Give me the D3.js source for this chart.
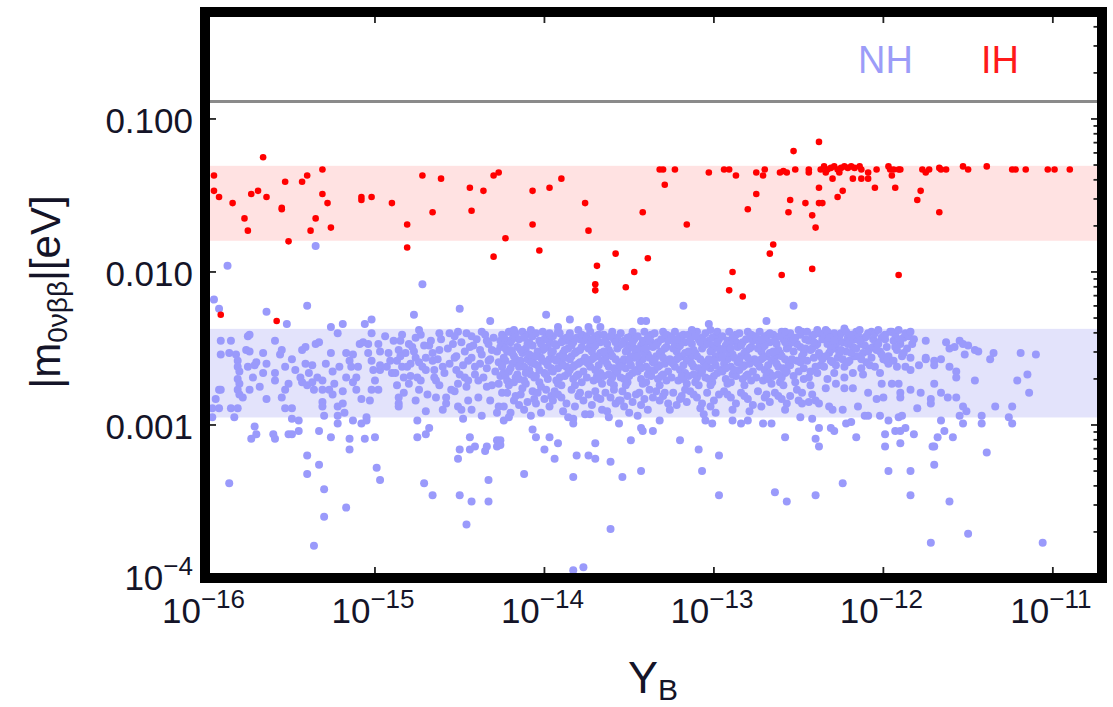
<!DOCTYPE html>
<html><head><meta charset="utf-8">
<script src="https://cdn.jsdelivr.net/npm/d3@7"></script>
<style>
body{margin:0;background:#fff}
svg{display:block}
text{font-family:"Liberation Sans",Arial,Helvetica,sans-serif}
</style>
</head><body>
<svg id="chart" width="1113" height="707"></svg>
<script>
// Axis ranges and reference levels
const xDomain = [1e-16, 1.95e-11];
const yDomain = [1e-4, 0.5];
const xTickExps = [-16, -15, -14, -13, -12, -11];
const yMajorTicks = [0.1, 0.01, 0.001, 0.0001];
const yTickLabels = ["0.100", "0.010", "0.001", "10|−4"];
const ihBand = [0.016, 0.0494];
const nhBand = [0.00112, 0.00425];
const upperBound = 0.13;
const legendLabels = ["NH", "IH"];

// Every entry: [log10 Y_B, log10 |m_0vbb|/eV]
// Inverted hierarchy points
const ihPoints = [
[-15.95,-1.37],[-15.95,-1.47],[-15.92,-1.51],[-15.84,-1.55],[-15.77,-1.65],[-15.75,-1.73],[-15.73,-1.49],[-15.69,-1.47],[-15.66,-1.25],[-15.64,-1.51],
[-15.55,-1.58],[-15.55,-1.59],[-15.53,-1.41],[-15.51,-1.80],[-15.43,-1.41],[-15.40,-1.37],[-15.38,-1.73],[-15.35,-1.65],[-15.31,-1.33],[-15.31,-1.49],
[-15.28,-1.55],[-15.26,-1.71],[-15.08,-1.51],[-15.08,-1.53],[-15.02,-1.51],[-14.90,-1.55],[-14.81,-1.69],[-14.81,-1.84],[-14.72,-1.37],[-14.66,-1.61],
[-14.61,-1.39],[-14.44,-1.45],[-14.43,-1.60],[-14.36,-1.47],[-14.30,-1.37],[-14.27,-1.35],[-14.30,-1.90],[-14.23,-1.78],[-14.07,-1.47],[-14.07,-1.69],
[-14.03,-1.86],[-13.97,-1.45],[-13.90,-1.39],[-13.76,-1.55],[-13.74,-1.73],[-13.69,-1.96],[-13.70,-2.08],[-13.70,-2.12],[-13.58,-1.88],[-13.52,-2.10],
[-13.47,-2.00],[-13.42,-1.61],[-13.39,-1.91],[-15.91,-2.28],[-15.58,-2.32],
[-13.32,-1.33],[-13.30,-1.33],[-13.29,-1.43],[-13.23,-1.33],[-13.16,-1.69],[-13.03,-1.35],[-12.94,-1.33],[-12.91,-1.33],[-12.87,-1.37],[-12.91,-2.12],
[-12.89,-2.00],[-12.83,-2.16],[-12.80,-1.59],[-12.75,-1.35],[-12.75,-1.49],[-12.71,-1.37],[-12.70,-1.33],[-12.67,-1.88],[-12.65,-1.82],[-12.61,-1.35],
[-12.59,-1.34],[-12.57,-1.35],[-12.60,-2.02],[-12.56,-1.61],[-12.55,-1.53],[-12.53,-1.21],[-12.52,-1.33],[-12.46,-1.55],[-12.44,-1.33],[-12.44,-1.35],
[-12.42,-1.63],[-12.42,-1.98],[-12.40,-1.71],[-12.38,-1.15],[-12.38,-1.45],[-12.38,-1.55],[-12.36,-1.55],[-12.37,-1.33],
[-12.35,-1.31],[-12.33,-1.33],[-12.31,-1.32],[-12.29,-1.31],[-12.27,-1.33],[-12.25,-1.32],[-12.23,-1.31],[-12.21,-1.32],[-12.19,-1.31],[-12.17,-1.32],[-12.14,-1.31],
[-12.34,-1.35],[-12.30,-1.39],[-12.27,-1.51],[-12.26,-1.35],[-12.24,-1.47],[-12.18,-1.39],[-12.13,-1.39],[-12.09,-1.39],[-12.13,-1.33],[-12.09,-1.35],
[-12.05,-1.45],[-12.04,-1.33],[-11.97,-1.31],[-11.96,-1.33],[-11.94,-1.33],[-11.91,-1.33],[-11.90,-1.33],[-11.95,-1.37],[-11.93,-1.45],[-11.91,-2.02],
[-11.80,-1.53],[-11.78,-1.47],[-11.77,-1.33],[-11.75,-1.35],[-11.73,-1.33],[-11.67,-1.61],[-11.67,-1.32],[-11.66,-1.33],[-11.63,-1.33],[-11.53,-1.31],
[-11.50,-1.33],[-11.39,-1.31],[-11.24,-1.33],[-11.22,-1.33],[-11.16,-1.33],[-11.03,-1.33],[-10.99,-1.33],[-10.90,-1.33]
];

// Normal hierarchy points, low Y_B side
const nhLeft = [
[-15.91,-2.45],[-15.85,-2.45],[-15.91,-2.54],[-15.86,-2.53],[-15.82,-2.54],[-15.81,-2.58],[-15.81,-2.62],[-15.80,-2.65],[-15.81,-2.70],[-15.80,-2.73],
[-15.81,-2.77],[-15.80,-2.80],[-15.78,-2.82],[-15.91,-2.77],[-15.92,-2.77],[-15.94,-2.83],[-15.96,-2.89],[-15.92,-2.89],[-15.85,-2.89],[-15.81,-2.89],
[-15.83,-2.95],[-15.96,-2.95],[-15.75,-2.42],[-15.74,-2.41],[-15.76,-2.51],[-15.74,-2.52],[-15.75,-2.62],[-15.72,-2.69],[-15.71,-2.61],[-15.68,-2.75],
[-15.74,-2.77],[-15.70,-2.59],[-15.66,-2.53],[-15.64,-2.60],[-15.66,-2.66],[-15.64,-2.83],[-15.59,-2.45],[-15.59,-2.66],[-15.59,-2.71],[-15.55,-2.51],
[-15.56,-2.54],[-15.53,-2.62],[-15.53,-2.77],[-15.55,-2.82],[-15.53,-2.89],[-15.49,-2.89],[-15.49,-2.96],[-15.45,-2.97],[-15.51,-2.73],[-15.49,-2.57],
[-15.47,-2.64],[-15.44,-2.69],[-15.43,-2.51],[-15.41,-2.49],[-15.41,-2.60],[-15.39,-2.66],[-15.43,-2.72],[-15.40,-2.74],[-15.37,-2.72],[-15.36,-2.77],
[-15.35,-2.47],[-15.33,-2.46],[-15.37,-2.61],[-15.34,-2.69],[-15.31,-2.71],[-15.31,-2.77],[-15.31,-2.85],[-15.31,-2.88],[-15.30,-2.94],[-15.29,-2.60],
[-15.26,-2.53],[-15.25,-2.65],[-15.24,-2.73],[-15.27,-2.77],[-15.25,-2.80],[-15.22,-2.88],[-15.22,-2.94],[-15.22,-2.99],[-15.19,-2.86],[-15.19,-2.78],
[-15.18,-2.92],[-15.21,-2.62],[-15.17,-2.53],[-15.15,-2.58],[-15.13,-2.54],[-15.14,-2.62],[-15.17,-2.69],[-15.13,-2.72],[-15.11,-2.69],[-15.10,-2.62],
[-15.09,-2.47],[-15.07,-2.46],[-15.04,-2.47],[-15.02,-2.40],[-15.04,-2.53],[-15.02,-2.58],[-15.01,-2.64],[-15.00,-2.71],[-15.02,-2.77],[-15.03,-2.84],
[-15.05,-2.95],[-15.08,-2.83],[-15.11,-2.77],[-15.13,-2.97],[-15.08,-2.99],[-15.05,-2.97],[-14.98,-2.77],[-14.97,-2.64],[-14.97,-2.52],[-14.97,-2.61],
[-14.98,-2.47],[-14.94,-2.42],[-14.92,-2.53],[-14.93,-2.62],[-14.91,-2.58],[-14.90,-2.66],[-14.87,-2.58],[-14.86,-2.51],[-14.85,-2.45],[-14.84,-2.62],
[-14.83,-2.69],[-14.82,-2.53],[-14.86,-2.82],[-14.86,-2.86],[-14.86,-2.88],[-14.80,-2.73],[-14.79,-2.60],[-14.78,-2.49],[-14.76,-2.56],[-14.75,-2.69],
[-14.74,-2.38],[-14.73,-2.41],[-14.72,-2.62],[-14.74,-2.77],[-14.76,-2.84],[-14.70,-2.56],[-14.68,-2.48],[-14.66,-2.58],[-14.65,-2.64],[-14.64,-2.71],
[-14.62,-2.40],[-14.62,-2.51],[-14.60,-2.62],[-14.64,-2.82],[-14.58,-2.86],[-14.58,-2.82],[-14.56,-2.40],[-14.54,-2.47],[-14.53,-2.56],[-14.52,-2.64],
[-14.51,-2.39],[-14.51,-2.73],[-14.53,-2.78],[-14.51,-2.88],[-14.49,-2.90],[-14.48,-2.96],[-14.45,-2.84],[-14.46,-2.75],[-14.47,-2.69],[-14.45,-2.58],
[-14.44,-2.49],[-14.43,-2.42],[-14.41,-2.62],[-14.39,-2.71],[-14.38,-2.51],[-14.37,-2.39],[-14.34,-2.45],[-14.33,-2.58],[-14.31,-2.51],[-14.34,-2.75],
[-14.32,-2.84],[-14.28,-2.92],[-14.27,-2.73],[-14.25,-2.62],[-14.26,-2.49],[-14.24,-2.42],[-14.25,-2.79],[-14.24,-2.97],[-14.27,-2.88],[-14.60,-2.90],
[-14.70,-2.91],[-14.75,-2.97],[-14.37,-2.94],[-14.43,-2.90],[-14.39,-2.82],
[-14.89,-2.45],[-14.88,-2.66],[-14.87,-2.74],[-14.85,-2.55],[-14.84,-2.41],[-14.83,-2.79],[-14.81,-2.62],[-14.80,-2.47],[-14.79,-2.68],[-14.77,-2.52],
[-14.76,-2.43],[-14.74,-2.59],[-14.73,-2.71],[-14.71,-2.48],[-14.70,-2.64],[-14.69,-2.80],[-14.67,-2.45],[-14.66,-2.53],[-14.65,-2.69],[-14.63,-2.57],
[-14.62,-2.74],[-14.61,-2.44],[-14.59,-2.66],[-14.57,-2.50],[-14.56,-2.60],[-14.55,-2.77],[-14.53,-2.42],[-14.52,-2.55],[-14.50,-2.67],[-14.49,-2.46],
[-14.48,-2.61],[-14.47,-2.52],[-14.46,-2.40],[-14.45,-2.71],[-14.43,-2.56],[-14.42,-2.48],[-14.41,-2.67],[-14.40,-2.44],[-14.38,-2.60],[-14.37,-2.54],
[-14.36,-2.69],[-14.35,-2.41],[-14.34,-2.63],[-14.33,-2.47],[-14.32,-2.57],[-14.31,-2.74],[-14.30,-2.43],[-14.29,-2.65],[-14.28,-2.52],[-14.27,-2.59],
[-14.26,-2.68],[-14.26,-2.45]
];

// Normal hierarchy points, dense middle
const nhCore = [
[-14.25,-2.41],[-14.24,-2.47],[-14.22,-2.52],[-14.21,-2.39],[-14.23,-2.58],[-14.20,-2.63],[-14.19,-2.44],[-14.18,-2.55],[-14.17,-2.69],[-14.22,-2.71],
[-14.24,-2.66],[-14.16,-2.49],[-14.19,-2.60],[-14.21,-2.74],[-14.18,-2.42],[-14.23,-2.50],[-14.17,-2.57],[-14.20,-2.46],[-14.25,-2.61],[-14.16,-2.67],
[-14.22,-2.45],[-14.19,-2.53],[-14.24,-2.56],[-14.18,-2.72],[-14.21,-2.65],[-14.17,-2.40],[-14.23,-2.68],[-14.20,-2.51],[-14.16,-2.59],[-14.24,-2.43],
[-14.22,-2.79],[-14.18,-2.84],[-14.24,-2.88],[-14.20,-2.92],[-14.17,-2.81],[-14.21,-2.95],
[-14.15,-2.44],[-14.13,-2.39],[-14.11,-2.50],[-14.09,-2.46],[-14.07,-2.55],[-14.14,-2.58],[-14.12,-2.62],[-14.10,-2.41],[-14.08,-2.67],[-14.06,-2.60],
[-14.15,-2.70],[-14.13,-2.53],[-14.11,-2.73],[-14.09,-2.64],[-14.07,-2.48],[-14.14,-2.51],[-14.12,-2.43],[-14.10,-2.57],[-14.08,-2.38],[-14.06,-2.69],
[-14.13,-2.76],[-14.11,-2.66],[-14.09,-2.54],[-14.07,-2.42],[-14.15,-2.62],[-14.10,-2.47],[-14.08,-2.59],[-14.12,-2.71],
[-14.14,-2.80],[-14.10,-2.85],[-14.07,-2.78],[-14.12,-2.90],[-14.08,-2.94],[-14.15,-2.87],[-14.06,-2.83],
[-14.05,-2.40],[-14.03,-2.45],[-14.01,-2.51],[-13.99,-2.43],[-13.97,-2.57],[-14.04,-2.61],[-14.02,-2.56],[-14.00,-2.66],[-13.98,-2.49],[-13.96,-2.63],
[-14.05,-2.68],[-14.03,-2.72],[-14.01,-2.39],[-13.99,-2.59],[-13.97,-2.46],[-14.04,-2.52],[-14.02,-2.75],[-14.00,-2.44],[-13.98,-2.70],[-13.96,-2.53],
[-14.03,-2.64],[-14.01,-2.58],[-13.99,-2.67],[-13.97,-2.41],[-14.05,-2.55],[-14.00,-2.50],[-13.98,-2.61],[-14.02,-2.47],
[-14.04,-2.79],[-14.00,-2.83],[-13.97,-2.88],[-14.02,-2.92],[-13.99,-2.77],[-14.05,-2.86],[-13.96,-2.81],
[-13.95,-2.42],[-13.93,-2.48],[-13.91,-2.40],[-13.89,-2.53],[-13.87,-2.45],[-13.94,-2.57],[-13.92,-2.63],[-13.90,-2.59],[-13.88,-2.68],[-13.86,-2.50],
[-13.95,-2.65],[-13.93,-2.71],[-13.91,-2.55],[-13.89,-2.44],[-13.87,-2.62],[-13.94,-2.47],[-13.92,-2.39],[-13.90,-2.74],[-13.88,-2.51],[-13.86,-2.66],
[-13.93,-2.58],[-13.91,-2.69],[-13.89,-2.61],[-13.87,-2.43],[-13.95,-2.52],[-13.90,-2.46],[-13.88,-2.56],[-13.92,-2.73],
[-13.94,-2.78],[-13.90,-2.82],[-13.87,-2.86],[-13.92,-2.80],[-13.89,-2.91],[-13.95,-2.84],[-13.86,-2.95],
[-13.85,-2.40],[-13.83,-2.46],[-13.81,-2.52],[-13.79,-2.44],[-13.77,-2.58],[-13.84,-2.55],[-13.82,-2.61],[-13.80,-2.67],[-13.78,-2.49],[-13.76,-2.42],
[-13.85,-2.64],[-13.83,-2.70],[-13.81,-2.43],[-13.79,-2.59],[-13.77,-2.65],[-13.84,-2.48],[-13.82,-2.53],[-13.80,-2.38],[-13.78,-2.72],[-13.76,-2.56],
[-13.83,-2.62],[-13.81,-2.68],[-13.79,-2.51],[-13.77,-2.45],[-13.85,-2.57],[-13.80,-2.60],[-13.78,-2.41],[-13.82,-2.74],
[-13.84,-2.77],[-13.80,-2.81],[-13.77,-2.84],[-13.82,-2.88],[-13.79,-2.79],[-13.76,-2.93],[-13.83,-2.96],
[-13.75,-2.43],[-13.73,-2.39],[-13.71,-2.49],[-13.69,-2.55],[-13.67,-2.46],[-13.74,-2.60],[-13.72,-2.52],[-13.70,-2.64],[-13.68,-2.41],[-13.66,-2.58],
[-13.75,-2.69],[-13.73,-2.62],[-13.71,-2.71],[-13.69,-2.45],[-13.67,-2.66],[-13.74,-2.50],[-13.72,-2.57],[-13.70,-2.42],[-13.68,-2.61],[-13.66,-2.73],
[-13.73,-2.47],[-13.71,-2.56],[-13.69,-2.68],[-13.67,-2.53],[-13.75,-2.59],[-13.70,-2.48],[-13.68,-2.70],[-13.72,-2.44],
[-13.74,-2.80],[-13.70,-2.78],[-13.67,-2.83],[-13.72,-2.87],[-13.69,-2.82],[-13.66,-2.90],[-13.73,-2.93],
[-13.65,-2.41],[-13.63,-2.47],[-13.61,-2.53],[-13.59,-2.44],[-13.57,-2.50],[-13.64,-2.56],[-13.62,-2.62],[-13.60,-2.39],[-13.58,-2.66],[-13.56,-2.59],
[-13.65,-2.68],[-13.63,-2.54],[-13.61,-2.72],[-13.59,-2.63],[-13.57,-2.43],[-13.64,-2.45],[-13.62,-2.51],[-13.60,-2.69],[-13.58,-2.57],[-13.56,-2.48],
[-13.63,-2.60],[-13.61,-2.42],[-13.59,-2.74],[-13.57,-2.65],[-13.65,-2.52],[-13.60,-2.55],[-13.58,-2.46],[-13.62,-2.67],
[-13.64,-2.79],[-13.61,-2.82],[-13.58,-2.86],[-13.63,-2.91],[-13.59,-2.77],[-13.56,-2.84],[-13.62,-2.95],
[-13.55,-2.40],[-13.53,-2.45],[-13.51,-2.51],[-13.49,-2.42],[-13.47,-2.56],[-13.54,-2.59],[-13.52,-2.63],[-13.50,-2.48],[-13.48,-2.66],[-13.46,-2.53],
[-13.55,-2.69],[-13.53,-2.57],[-13.51,-2.72],[-13.49,-2.61],[-13.47,-2.44],[-13.54,-2.47],[-13.52,-2.52],[-13.50,-2.68],[-13.48,-2.39],[-13.46,-2.64],
[-13.53,-2.70],[-13.51,-2.43],[-13.49,-2.55],[-13.47,-2.50],[-13.55,-2.62],[-13.50,-2.58],[-13.48,-2.46],[-13.52,-2.74],
[-13.54,-2.78],[-13.51,-2.81],[-13.48,-2.85],[-13.53,-2.88],[-13.50,-2.92],[-13.46,-2.80],[-13.55,-2.84],
[-13.45,-2.42],[-13.43,-2.48],[-13.41,-2.39],[-13.39,-2.54],[-13.37,-2.46],[-13.44,-2.51],[-13.42,-2.57],[-13.40,-2.62],[-13.38,-2.44],[-13.36,-2.59],
[-13.45,-2.65],[-13.43,-2.70],[-13.41,-2.53],[-13.39,-2.67],[-13.37,-2.41],[-13.44,-2.60],[-13.42,-2.45],[-13.40,-2.72],[-13.38,-2.56],[-13.36,-2.49],
[-13.43,-2.63],[-13.41,-2.47],[-13.39,-2.43],[-13.37,-2.68],[-13.45,-2.55],[-13.40,-2.50],[-13.38,-2.64],[-13.42,-2.73],
[-13.44,-2.79],[-13.41,-2.83],[-13.38,-2.77],[-13.43,-2.87],[-13.39,-2.90],[-13.36,-2.82],[-13.45,-2.94],
[-13.35,-2.40],[-13.33,-2.46],[-13.31,-2.52],[-13.29,-2.43],[-13.27,-2.58],[-13.34,-2.55],[-13.32,-2.61],[-13.30,-2.67],[-13.28,-2.49],[-13.26,-2.42],
[-13.35,-2.64],[-13.33,-2.70],[-13.31,-2.44],[-13.29,-2.60],[-13.27,-2.65],[-13.34,-2.48],[-13.32,-2.53],[-13.30,-2.39],[-13.28,-2.71],[-13.26,-2.57],
[-13.33,-2.62],[-13.31,-2.68],[-13.29,-2.50],[-13.27,-2.45],[-13.35,-2.58],[-13.30,-2.56],[-13.28,-2.41],[-13.32,-2.74],
[-13.34,-2.78],[-13.30,-2.81],[-13.27,-2.86],[-13.32,-2.84],[-13.29,-2.79],[-13.26,-2.90],
[-13.25,-2.43],[-13.23,-2.39],[-13.21,-2.49],[-13.19,-2.55],[-13.17,-2.46],[-13.24,-2.60],[-13.22,-2.52],[-13.20,-2.64],[-13.18,-2.41],[-13.16,-2.58],
[-13.25,-2.69],[-13.23,-2.62],[-13.21,-2.71],[-13.19,-2.45],[-13.17,-2.66],[-13.24,-2.50],[-13.22,-2.57],[-13.20,-2.42],[-13.18,-2.61],[-13.16,-2.73],
[-13.23,-2.47],[-13.21,-2.56],[-13.19,-2.68],[-13.17,-2.53],[-13.25,-2.59],[-13.20,-2.48],[-13.18,-2.70],[-13.22,-2.44],
[-13.24,-2.79],[-13.20,-2.83],[-13.17,-2.77],[-13.22,-2.87],[-13.19,-2.81],[-13.16,-2.85],
[-13.15,-2.41],[-13.13,-2.47],[-13.11,-2.53],[-13.09,-2.44],[-13.07,-2.50],[-13.14,-2.56],[-13.12,-2.62],[-13.10,-2.39],[-13.08,-2.66],[-13.06,-2.59],
[-13.15,-2.68],[-13.13,-2.54],[-13.11,-2.72],[-13.09,-2.63],[-13.07,-2.43],[-13.14,-2.45],[-13.12,-2.51],[-13.10,-2.69],[-13.08,-2.57],[-13.06,-2.48],
[-13.13,-2.60],[-13.11,-2.42],[-13.09,-2.74],[-13.07,-2.65],[-13.15,-2.52],[-13.10,-2.55],[-13.08,-2.46],[-13.12,-2.67],
[-13.14,-2.78],[-13.10,-2.82],[-13.07,-2.86],[-13.12,-2.80],[-13.08,-2.89],[-13.06,-2.93],
[-13.05,-2.40],[-13.03,-2.45],[-13.01,-2.51],[-12.99,-2.42],[-12.97,-2.56],[-13.04,-2.59],[-13.02,-2.63],[-13.00,-2.48],[-12.98,-2.66],[-12.96,-2.53],
[-13.05,-2.69],[-13.03,-2.57],[-13.01,-2.72],[-12.99,-2.61],[-12.97,-2.44],[-13.04,-2.47],[-13.02,-2.52],[-13.00,-2.68],[-12.98,-2.39],[-12.96,-2.64],
[-13.03,-2.70],[-13.01,-2.43],[-12.99,-2.55],[-12.97,-2.50],[-13.05,-2.62],[-13.00,-2.58],[-12.98,-2.46],[-13.02,-2.74],
[-13.04,-2.79],[-13.00,-2.84],[-12.97,-2.80],[-13.02,-2.88],[-12.99,-2.92],
[-12.95,-2.42],[-12.93,-2.48],[-12.91,-2.39],[-12.89,-2.54],[-12.87,-2.46],[-12.94,-2.51],[-12.92,-2.57],[-12.90,-2.62],[-12.88,-2.44],[-12.86,-2.59],
[-12.95,-2.65],[-12.93,-2.70],[-12.91,-2.53],[-12.89,-2.67],[-12.87,-2.41],[-12.94,-2.60],[-12.92,-2.45],[-12.90,-2.72],[-12.88,-2.56],[-12.86,-2.49],
[-12.93,-2.63],[-12.91,-2.47],[-12.89,-2.43],[-12.87,-2.68],[-12.95,-2.55],[-12.90,-2.50],[-12.88,-2.64],[-12.92,-2.73],
[-12.94,-2.78],[-12.90,-2.82],[-12.87,-2.86],[-12.92,-2.80],[-12.89,-2.90],
[-12.85,-2.40],[-12.83,-2.46],[-12.81,-2.52],[-12.79,-2.43],[-12.77,-2.58],[-12.84,-2.55],[-12.82,-2.61],[-12.80,-2.67],[-12.78,-2.49],[-12.76,-2.42],
[-12.85,-2.64],[-12.83,-2.70],[-12.81,-2.44],[-12.79,-2.60],[-12.77,-2.65],[-12.84,-2.48],[-12.82,-2.53],[-12.80,-2.39],[-12.78,-2.71],[-12.76,-2.57],
[-12.83,-2.62],[-12.81,-2.68],[-12.79,-2.50],[-12.77,-2.45],[-12.85,-2.58],[-12.80,-2.56],[-12.78,-2.41],[-12.82,-2.74],
[-12.84,-2.79],[-12.80,-2.83],[-12.77,-2.87],[-12.82,-2.81],[-12.79,-2.91],
[-12.75,-2.43],[-12.73,-2.39],[-12.71,-2.49],[-12.69,-2.55],[-12.67,-2.46],[-12.74,-2.60],[-12.72,-2.52],[-12.70,-2.64],[-12.68,-2.41],[-12.66,-2.58],
[-12.75,-2.69],[-12.73,-2.62],[-12.71,-2.71],[-12.69,-2.45],[-12.67,-2.66],[-12.74,-2.50],[-12.72,-2.57],[-12.70,-2.42],[-12.68,-2.61],[-12.66,-2.73],
[-12.73,-2.47],[-12.71,-2.56],[-12.69,-2.68],[-12.67,-2.53],[-12.75,-2.59],[-12.70,-2.48],[-12.68,-2.70],[-12.72,-2.44],
[-12.74,-2.78],[-12.70,-2.82],[-12.67,-2.85],[-12.72,-2.88],[-12.69,-2.80],
[-12.65,-2.41],[-12.63,-2.47],[-12.61,-2.53],[-12.59,-2.44],[-12.57,-2.50],[-12.64,-2.56],[-12.62,-2.62],[-12.60,-2.39],[-12.58,-2.66],[-12.56,-2.59],
[-12.65,-2.68],[-12.63,-2.54],[-12.61,-2.72],[-12.59,-2.63],[-12.57,-2.43],[-12.64,-2.45],[-12.62,-2.51],[-12.60,-2.69],[-12.58,-2.57],[-12.56,-2.48],
[-12.63,-2.60],[-12.61,-2.42],[-12.59,-2.74],[-12.57,-2.65],[-12.65,-2.52],[-12.60,-2.55],[-12.58,-2.46],[-12.62,-2.67],
[-12.64,-2.79],[-12.60,-2.83],[-12.57,-2.86],[-12.62,-2.81],[-12.58,-2.90]
];

// Normal hierarchy points, high Y_B side
const nhRight = [
[-12.55,-2.40],[-12.54,-2.46],[-12.53,-2.52],[-12.52,-2.43],[-12.51,-2.58],[-12.50,-2.38],[-12.49,-2.49],[-12.48,-2.55],[-12.47,-2.63],[-12.46,-2.44],
[-12.55,-2.61],[-12.53,-2.68],[-12.51,-2.47],[-12.49,-2.41],[-12.47,-2.53],[-12.54,-2.57],[-12.52,-2.72],[-12.50,-2.65],[-12.48,-2.39],[-12.46,-2.50],
[-12.53,-2.44],[-12.51,-2.77],[-12.49,-2.59],[-12.47,-2.70],[-12.55,-2.81],[-12.50,-2.84],[-12.48,-2.79],
[-12.45,-2.39],[-12.44,-2.45],[-12.43,-2.51],[-12.42,-2.42],[-12.41,-2.56],[-12.40,-2.48],[-12.39,-2.38],[-12.38,-2.53],[-12.37,-2.61],[-12.36,-2.44],
[-12.45,-2.58],[-12.43,-2.65],[-12.41,-2.41],[-12.39,-2.47],[-12.37,-2.55],[-12.44,-2.69],[-12.42,-2.50],[-12.40,-2.62],[-12.38,-2.40],[-12.36,-2.57],
[-12.43,-2.74],[-12.41,-2.46],[-12.39,-2.66],[-12.42,-2.80],[-12.44,-2.85],
[-12.35,-2.41],[-12.34,-2.38],[-12.33,-2.47],[-12.32,-2.53],[-12.31,-2.44],[-12.30,-2.59],[-12.29,-2.40],[-12.28,-2.50],[-12.27,-2.56],[-12.26,-2.42],
[-12.35,-2.62],[-12.33,-2.39],[-12.31,-2.51],[-12.29,-2.66],[-12.27,-2.46],[-12.34,-2.55],[-12.32,-2.43],[-12.30,-2.48],[-12.28,-2.61],[-12.26,-2.53],
[-12.33,-2.70],[-12.31,-2.58],[-12.29,-2.45],
[-12.25,-2.40],[-12.24,-2.46],[-12.23,-2.37],[-12.22,-2.52],[-12.21,-2.43],[-12.20,-2.58],[-12.19,-2.41],[-12.18,-2.49],[-12.17,-2.55],[-12.16,-2.39],
[-12.25,-2.51],[-12.23,-2.62],[-12.21,-2.47],[-12.19,-2.53],[-12.17,-2.44],[-12.24,-2.57],[-12.22,-2.39],[-12.20,-2.45],[-12.18,-2.66],[-12.16,-2.50],
[-12.23,-2.69],[-12.21,-2.59],[-12.19,-2.42],
[-12.15,-2.41],[-12.14,-2.38],[-12.13,-2.47],[-12.12,-2.53],[-12.11,-2.43],[-12.10,-2.59],[-12.09,-2.40],[-12.08,-2.50],[-12.07,-2.56],[-12.06,-2.44],
[-12.15,-2.55],[-12.13,-2.63],[-12.11,-2.48],[-12.09,-2.52],[-12.07,-2.39],[-12.14,-2.45],[-12.12,-2.67],[-12.10,-2.42],[-12.08,-2.61],[-12.06,-2.49],
[-12.13,-2.57],
[-12.05,-2.40],[-12.04,-2.46],[-12.03,-2.38],[-12.02,-2.52],[-12.01,-2.43],[-12.00,-2.57],[-11.99,-2.41],[-11.98,-2.49],[-11.97,-2.55],[-11.96,-2.39],
[-12.05,-2.62],[-12.03,-2.47],[-12.01,-2.54],[-11.99,-2.44],[-11.97,-2.60],[-12.04,-2.51],[-12.02,-2.66],[-12.00,-2.42],[-11.98,-2.58],
[-11.95,-2.39],[-11.94,-2.45],[-11.93,-2.41],[-11.92,-2.51],[-11.91,-2.38],[-11.90,-2.47],[-11.89,-2.55],[-11.88,-2.43],[-11.87,-2.40],[-11.86,-2.50],
[-11.94,-2.58],[-11.92,-2.62],[-11.90,-2.44],[-11.88,-2.53],[-11.93,-2.49],
[-11.85,-2.42],[-11.84,-2.39],[-11.83,-2.47],[-11.84,-2.56],[-11.82,-2.44],
[-11.75,-2.45],[-11.75,-2.56],[-11.70,-2.58],[-11.70,-2.61],[-11.66,-2.57],[-11.63,-2.46],[-11.61,-2.50],[-11.58,-2.49],[-11.55,-2.45],[-11.53,-2.47],
[-11.50,-2.48],[-11.46,-2.51],[-11.44,-2.52],[-11.52,-2.54],[-11.61,-2.62],[-11.57,-2.65],[-11.57,-2.69],[-11.46,-2.71],[-11.35,-2.53],[-11.37,-2.57],
[-11.19,-2.53],[-11.10,-2.54],[-11.21,-2.71],[-11.15,-2.67],[-11.14,-2.79],[-11.34,-2.88],[-11.24,-2.88],[-11.26,-2.95],[-11.24,-2.99],[-11.42,-2.94],
[-11.42,-2.99],[-11.53,-2.88],[-11.55,-2.94],[-11.51,-2.91],[-11.53,-2.99],[-11.70,-2.73],[-11.66,-2.79],[-11.62,-2.82],[-11.57,-2.82],[-11.72,-2.83],
[-11.72,-2.86],[-11.78,-2.79],[-11.80,-2.89],[-11.66,-2.97],[-11.87,-2.62],[-11.84,-2.64],[-11.79,-2.61],[-11.75,-2.57],
[-12.49,-2.95],[-12.42,-2.96],[-12.15,-2.88],[-12.24,-2.90],[-12.30,-2.90],[-12.32,-2.88],[-12.04,-2.83],[-12.00,-2.82],[-11.90,-2.82],[-11.90,-2.79],
[-11.84,-2.77],[-12.09,-2.79],[-12.01,-2.73],[-11.95,-2.73],[-11.91,-2.73],[-12.34,-2.76],[-12.28,-2.73],[-12.23,-2.76],[-12.18,-2.76],[-12.40,-2.84],
[-12.38,-2.86],[-12.48,-2.86],[-12.11,-2.94],[-12.09,-2.94],[-12.02,-2.94],[-11.91,-2.95],[-11.89,-2.94]
];

// Normal hierarchy points far from the band
const nhOutliers = [
[-15.35,-1.83],[-15.87,-1.96],[-15.95,-2.18],[-15.92,-2.24],[-15.64,-2.26],[-15.40,-2.22],[-15.52,-2.34],[-14.72,-2.08],[-14.77,-2.28],[-14.50,-2.24],
[-14.32,-2.32],[-13.99,-2.28],[-13.85,-2.31],[-13.69,-2.31],[-13.40,-2.32],[-13.92,-2.36],[-13.74,-2.36],[-13.67,-2.36],[-15.26,-2.36],[-15.19,-2.34],
[-15.06,-2.34],[-15.02,-2.31],[-13.18,-2.22],[-12.53,-2.22],[-13.43,-2.32],[-13.03,-2.34],[-12.69,-2.32],[-13.02,-2.38],[-13.13,-2.38],[-14.20,-2.39],
[-14.18,-2.38],[-13.97,-2.40],[-13.85,-2.42],[-12.58,-2.39],[-12.67,-2.40],[-15.22,-2.40],
[-15.71,-3.01],[-15.70,-3.06],[-15.73,-3.09],[-15.60,-3.06],[-15.59,-3.09],[-15.51,-3.06],[-15.49,-3.06],[-15.45,-3.04],[-15.33,-3.04],[-15.26,-3.08],
[-15.15,-3.09],[-15.15,-3.16],[-15.06,-3.09],[-15.00,-3.08],[-14.75,-3.08],[-14.70,-3.06],[-14.68,-3.02],[-14.44,-3.08],[-14.50,-3.16],[-14.51,-3.22],
[-14.44,-3.16],[-14.41,-3.14],[-14.35,-3.17],[-14.34,-3.14],[-14.28,-3.10],[-14.28,-3.14],[-15.40,-3.20],[-15.40,-3.32],[-15.33,-3.26],[-15.30,-3.42],
[-15.30,-3.60],[-15.36,-3.79],[-15.17,-3.54],[-14.99,-3.28],[-14.97,-3.36],[-14.71,-3.38],[-14.66,-3.46],[-14.50,-3.46],[-14.43,-3.50],[-14.46,-3.65],
[-14.33,-3.36],[-14.33,-3.50],[-15.86,-3.38],
[-14.07,-3.03],[-14.05,-3.08],[-13.97,-3.08],[-14.00,-3.16],[-13.92,-3.12],[-13.94,-3.22],[-13.83,-2.99],[-13.81,-3.20],[-13.74,-3.20],[-13.70,-3.22],
[-13.70,-3.12],[-13.61,-3.24],[-13.56,-2.99],[-13.49,-3.10],[-13.43,-3.02],[-13.42,-3.04],[-13.36,-3.04],[-13.32,-2.97],[-13.20,-3.10],[-13.09,-3.16],
[-12.97,-3.20],[-13.07,-3.30],[-14.12,-3.32],[-13.83,-3.34],[-13.54,-3.34],[-13.43,-3.30],[-12.97,-3.46],[-12.64,-3.44],[-12.57,-3.50],[-12.58,-3.08],
[-13.61,-3.68],[-13.83,-3.95],[-13.77,-3.93],[-14.26,-3.10],[-14.26,-3.13],[-13.01,-2.99],[-13.05,-2.97],[-12.89,-2.97],[-12.84,-2.99],[-12.80,-2.97],
[-12.71,-2.99],[-12.66,-2.99],
[-11.64,-3.04],[-11.68,-3.08],[-11.59,-3.08],[-11.71,-3.14],[-11.70,-3.14],[-11.70,-3.26],[-11.39,-3.18],[-11.61,-3.50],[-11.50,-3.71],[-11.72,-3.77],
[-11.06,-3.77],[-11.84,-3.30],[-11.97,-3.30],[-11.84,-3.46],[-12.24,-3.38],[-12.40,-3.46],[-12.40,-3.09],[-12.38,-3.14],[-12.38,-3.02],[-12.31,-3.02],
[-12.29,-3.04],[-12.22,-2.99],[-12.19,-2.98],[-12.16,-3.08],[-11.99,-3.06],[-11.99,-3.14],[-11.90,-3.12],[-11.93,-3.04],[-11.90,-3.04],[-11.87,-3.02],
[-11.82,-3.06],[-11.97,-2.97]
];

const nhPoints = nhLeft.concat(nhCore, nhRight, nhOutliers);

const svg = d3.select("#chart");
const W = 1113, H = 707;
const frame = {left: 205, right: 1102, top: 12, bottom: 578};
const frameW = 10;
const inner = {left: frame.left + frameW / 2, right: frame.right - frameW / 2,
               top: frame.top + frameW / 2, bottom: frame.bottom - frameW / 2};

svg.append("rect").attr("width", W).attr("height", H).attr("fill", "#fff");

const x = d3.scaleLog().domain(xDomain).range([205.5, 1102]);
const y = d3.scaleLog().domain(yDomain).range([578, 12]);

svg.append("clipPath").attr("id", "plot-clip")
  .append("rect")
  .attr("x", inner.left).attr("y", inner.top)
  .attr("width", inner.right - inner.left).attr("height", inner.bottom - inner.top);

const plot = svg.append("g").attr("clip-path", "url(#plot-clip)");

// shaded bands for the two hierarchies
plot.append("rect")
  .attr("x", x(xDomain[0])).attr("width", x(xDomain[1]) - x(xDomain[0]))
  .attr("y", y(ihBand[1])).attr("height", y(ihBand[0]) - y(ihBand[1]))
  .attr("fill", "#ffe2e2");
plot.append("rect")
  .attr("x", x(xDomain[0])).attr("width", x(xDomain[1]) - x(xDomain[0]))
  .attr("y", y(nhBand[1])).attr("height", y(nhBand[0]) - y(nhBand[1]))
  .attr("fill", "#e3e3fb");

// experimental upper limit
plot.append("line")
  .attr("x1", x(xDomain[0])).attr("x2", x(xDomain[1]))
  .attr("y1", y(upperBound)).attr("y2", y(upperBound))
  .attr("stroke", "#8a8a8a").attr("stroke-width", 3);

plot.append("g").selectAll("circle").data(nhPoints).join("circle")
  .attr("cx", d => x(Math.pow(10, d[0])))
  .attr("cy", d => y(Math.pow(10, d[1])))
  .attr("r", 4)
  .attr("fill", "#9a9afb");

plot.append("g").selectAll("circle").data(ihPoints).join("circle")
  .attr("cx", d => x(Math.pow(10, d[0])))
  .attr("cy", d => y(Math.pow(10, d[1])))
  .attr("r", 3.3)
  .attr("fill", "#ff0000");

// frame ticks (inward)
const ticks = svg.append("g").attr("stroke", "#222").attr("stroke-width", 1.8);
xTickExps.slice(1).forEach(e => {
  const px = x(Math.pow(10, e));
  ticks.append("line").attr("x1", px).attr("x2", px).attr("y1", inner.bottom).attr("y2", inner.bottom - 6);
  ticks.append("line").attr("x1", px).attr("x2", px).attr("y1", inner.top).attr("y2", inner.top + 6);
});
yMajorTicks.slice(0, 3).forEach(v => {
  const py = y(v);
  ticks.append("line").attr("x1", inner.left).attr("x2", inner.left + 6).attr("y1", py).attr("y2", py);
  ticks.append("line").attr("x1", inner.right).attr("x2", inner.right - 6).attr("y1", py).attr("y2", py);
});
const yMinor = [];
[-4, -3, -2, -1].forEach(d => {
  for (let k = 2; k <= 9; k++) {
    const v = k * Math.pow(10, d);
    if (v <= yDomain[1]) yMinor.push(v);
  }
});
yMinor.forEach(v => {
  const py = y(v);
  ticks.append("line").attr("x1", inner.right).attr("x2", inner.right - 3.5).attr("y1", py).attr("y2", py);
});

// frame
svg.append("rect")
  .attr("x", frame.left).attr("y", frame.top)
  .attr("width", frame.right - frame.left).attr("height", frame.bottom - frame.top)
  .attr("fill", "none").attr("stroke", "#000").attr("stroke-width", frameW);

// tick labels
const labelColor = "#141428";
xTickExps.forEach(e => {
  const t = svg.append("text")
    .attr("x", x(Math.pow(10, e)) - 2).attr("y", 623)
    .attr("text-anchor", "middle").attr("fill", labelColor)
    .attr("font-size", 35);
  t.append("tspan").text("10");
  t.append("tspan").attr("font-size", 26).attr("dy", -15).text("−" + Math.abs(e));
});
yMajorTicks.forEach((v, i) => {
  const lab = yTickLabels[i];
  const t = svg.append("text")
    .attr("x", 193).attr("y", y(v) + 14)
    .attr("text-anchor", "end").attr("fill", labelColor)
    .attr("font-size", 35);
  if (lab.includes("|")) {
    const [base, ex] = lab.split("|");
    t.attr("y", y(v) + 12);
    t.append("tspan").text(base);
    t.append("tspan").attr("font-size", 26).attr("dy", -15).text(ex);
  } else {
    t.text(lab);
  }
});

// axis titles
const xt = svg.append("text")
  .attr("x", 653).attr("y", 693).attr("text-anchor", "middle")
  .attr("fill", labelColor).attr("font-size", 45);
xt.append("tspan").text("Y");
xt.append("tspan").attr("font-size", 30).attr("dy", 7).text("B");

const yt = svg.append("text")
  .attr("transform", "translate(60,292) rotate(-90)")
  .attr("text-anchor", "middle").attr("fill", labelColor).attr("font-size", 42);
yt.append("tspan").text("|m");
yt.append("tspan").attr("font-size", 28).attr("dy", 7).text("0νββ");
yt.append("tspan").attr("dy", -7).text("|[eV]");

// hierarchy labels
svg.append("text").attr("x", 858).attr("y", 73).attr("font-size", 38)
  .attr("fill", "#9c9cf8").text(legendLabels[0]);
svg.append("text").attr("x", 981).attr("y", 73).attr("font-size", 38)
  .attr("fill", "#ff1a1a").text(legendLabels[1]);
</script>
</body></html>
